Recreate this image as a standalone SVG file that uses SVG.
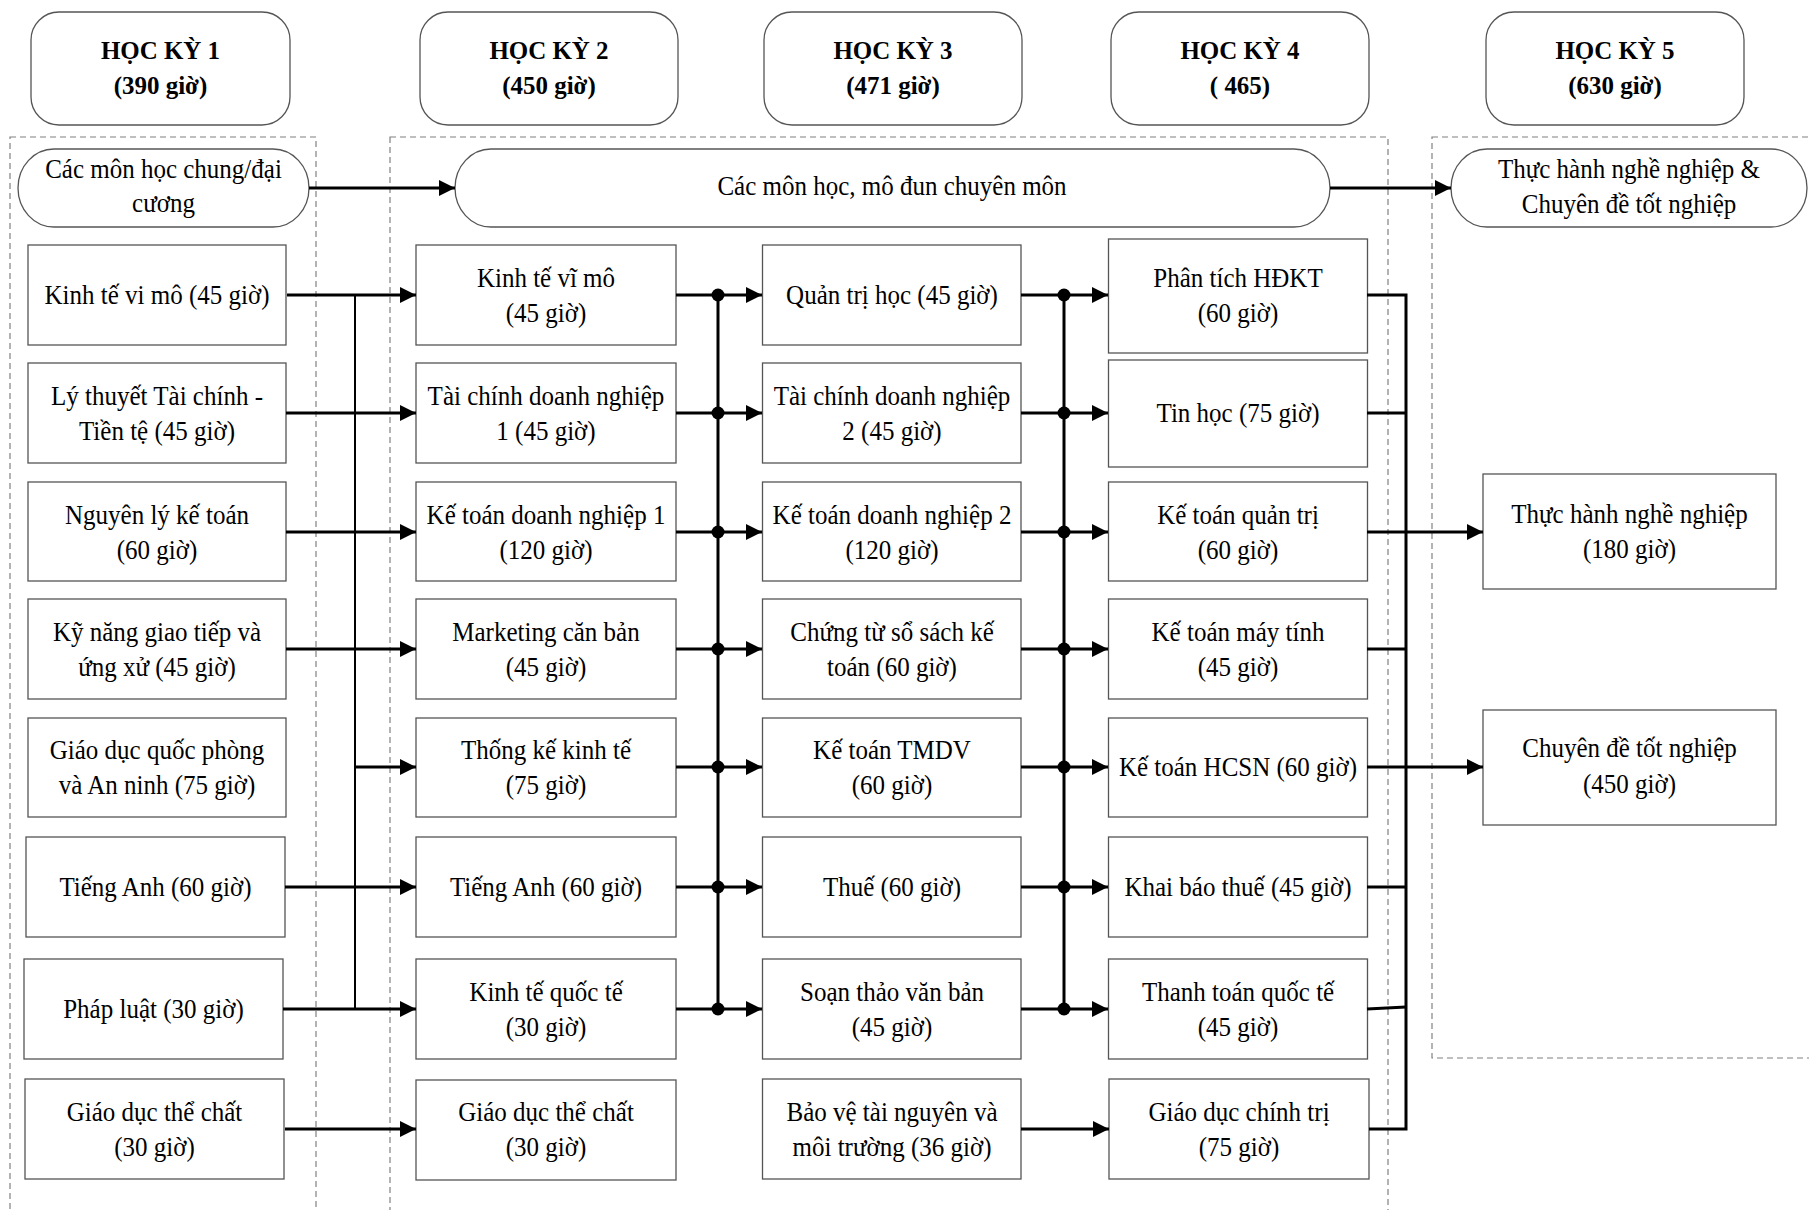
<svg xmlns="http://www.w3.org/2000/svg" width="1809" height="1210" viewBox="0 0 1809 1210">
<defs>
<style>
text{font-family:"Liberation Serif","Times New Roman",serif;font-size:27px;fill:#000;text-anchor:middle;transform-box:fill-box;transform-origin:center;transform:scaleX(0.926)}
.h{font-weight:bold;font-size:26px;transform:scaleX(0.96)}
.box{fill:#fff;stroke:#555;stroke-width:1.3}
.dash{fill:none;stroke:#808080;stroke-width:1.2;stroke-dasharray:6 4}
.c{fill:none;stroke:#000;stroke-width:3}
.bus1{fill:none;stroke:#000;stroke-width:2}
.a{marker-end:url(#arr)}
</style>
<marker id="arr" markerUnits="userSpaceOnUse" markerWidth="16" markerHeight="16" refX="16" refY="8" orient="auto">
<path d="M0,0 L16,8 L0,16 z" fill="#000"/>
</marker>
</defs>
<rect width="1809" height="1210" fill="#fff"/>
<g id="groups">
<rect class="dash" x="10" y="137" width="306" height="1100"/>
<rect class="dash" x="390" y="137" width="998" height="1100"/>
<rect class="dash" x="1432" y="137" width="420" height="921"/>
</g>
<g id="headers">
<g id="hk1"><rect class="box" x="31" y="12" width="259" height="113" rx="28"/><text class="h" x="160.5" y="59">HỌC KỲ 1</text><text class="h" x="160.5" y="94">(390 giờ)</text></g>
<g id="hk2"><rect class="box" x="420" y="12" width="258" height="113" rx="28"/><text class="h" x="549" y="59">HỌC KỲ 2</text><text class="h" x="549" y="94">(450 giờ)</text></g>
<g id="hk3"><rect class="box" x="764" y="12" width="258" height="113" rx="28"/><text class="h" x="893" y="59">HỌC KỲ 3</text><text class="h" x="893" y="94">(471 giờ)</text></g>
<g id="hk4"><rect class="box" x="1111" y="12" width="258" height="113" rx="28"/><text class="h" x="1240" y="59">HỌC KỲ 4</text><text class="h" x="1240" y="94">( 465)</text></g>
<g id="hk5"><rect class="box" x="1486" y="12" width="258" height="113" rx="28"/><text class="h" x="1615" y="59">HỌC KỲ 5</text><text class="h" x="1615" y="94">(630 giờ)</text></g>
</g>
<g id="categories">
<g id="cat1"><rect class="box" x="18" y="149" width="291" height="78" rx="36" ry="39"/><text x="163.5" y="178">Các môn học chung/đại</text><text x="163.5" y="212">cương</text></g>
<g id="cat2"><rect class="box" x="455" y="149" width="875" height="78" rx="36" ry="39"/><text x="892" y="195">Các môn học, mô đun chuyên môn</text></g>
<g id="cat3"><rect class="box" x="1451" y="149" width="356" height="78" rx="36" ry="39"/><text x="1629" y="178">Thực hành nghề nghiệp &amp;</text><text x="1629" y="213">Chuyên đề tốt nghiệp</text></g>
</g>
<g id="col1">
<g id="c1r1"><rect class="box" x="28" y="245" width="258" height="100"/><text x="157" y="304">Kinh tế vi mô (45 giờ)</text></g>
<g id="c1r2"><rect class="box" x="28" y="363" width="258" height="100"/><text x="157" y="405">Lý thuyết Tài chính -</text><text x="157" y="440">Tiền tệ (45 giờ)</text></g>
<g id="c1r3"><rect class="box" x="28" y="482" width="258" height="99"/><text x="157" y="524">Nguyên lý kế toán</text><text x="157" y="559">(60 giờ)</text></g>
<g id="c1r4"><rect class="box" x="28" y="599" width="258" height="100"/><text x="157" y="641">Kỹ năng giao tiếp và</text><text x="157" y="676">ứng xử (45 giờ)</text></g>
<g id="c1r5"><rect class="box" x="28" y="718" width="258" height="99"/><text x="157" y="759">Giáo dục quốc phòng</text><text x="157" y="794">và An ninh (75 giờ)</text></g>
<g id="c1r6"><rect class="box" x="26" y="837" width="259" height="100"/><text x="155.5" y="896">Tiếng Anh (60 giờ)</text></g>
<g id="c1r7"><rect class="box" x="24" y="959" width="259" height="100"/><text x="153.5" y="1018">Pháp luật (30 giờ)</text></g>
<g id="c1r8"><rect class="box" x="25" y="1079" width="259" height="100"/><text x="154.5" y="1121">Giáo dục thể chất</text><text x="154.5" y="1156">(30 giờ)</text></g>
</g>
<g id="col2">
<g id="c2r1"><rect class="box" x="416" y="245" width="260" height="100"/><text x="546" y="287">Kinh tế vĩ mô</text><text x="546" y="322">(45 giờ)</text></g>
<g id="c2r2"><rect class="box" x="416" y="363" width="260" height="100"/><text x="546" y="405">Tài chính doanh nghiệp</text><text x="546" y="440">1 (45 giờ)</text></g>
<g id="c2r3"><rect class="box" x="416" y="482" width="260" height="99"/><text x="546" y="524">Kế toán doanh nghiệp 1</text><text x="546" y="559">(120 giờ)</text></g>
<g id="c2r4"><rect class="box" x="416" y="599" width="260" height="100"/><text x="546" y="641">Marketing căn bản</text><text x="546" y="676">(45 giờ)</text></g>
<g id="c2r5"><rect class="box" x="416" y="718" width="260" height="99"/><text x="546" y="759">Thống kế kinh tế</text><text x="546" y="794">(75 giờ)</text></g>
<g id="c2r6"><rect class="box" x="416" y="837" width="260" height="100"/><text x="546" y="896">Tiếng Anh (60 giờ)</text></g>
<g id="c2r7"><rect class="box" x="416" y="959" width="260" height="100"/><text x="546" y="1001">Kinh tế quốc tế</text><text x="546" y="1036">(30 giờ)</text></g>
<g id="c2r8"><rect class="box" x="416" y="1080" width="260" height="100"/><text x="546" y="1121">Giáo dục thể chất</text><text x="546" y="1156">(30 giờ)</text></g>
</g>
<g id="col3">
<g id="c3r1"><rect class="box" x="762.5" y="245" width="258.5" height="100"/><text x="892" y="304">Quản trị học (45 giờ)</text></g>
<g id="c3r2"><rect class="box" x="762.5" y="363" width="258.5" height="100"/><text x="892" y="405">Tài chính doanh nghiệp</text><text x="892" y="440">2 (45 giờ)</text></g>
<g id="c3r3"><rect class="box" x="762.5" y="482" width="258.5" height="99"/><text x="892" y="524">Kế toán doanh nghiệp 2</text><text x="892" y="559">(120 giờ)</text></g>
<g id="c3r4"><rect class="box" x="762.5" y="599" width="258.5" height="100"/><text x="892" y="641">Chứng từ sổ sách kế</text><text x="892" y="676">toán (60 giờ)</text></g>
<g id="c3r5"><rect class="box" x="762.5" y="718" width="258.5" height="99"/><text x="892" y="759">Kế toán TMDV</text><text x="892" y="794">(60 giờ)</text></g>
<g id="c3r6"><rect class="box" x="762.5" y="837" width="258.5" height="100"/><text x="892" y="896">Thuế (60 giờ)</text></g>
<g id="c3r7"><rect class="box" x="762.5" y="959" width="258.5" height="100"/><text x="892" y="1001">Soạn thảo văn bản</text><text x="892" y="1036">(45 giờ)</text></g>
<g id="c3r8"><rect class="box" x="762.5" y="1079" width="258.5" height="100"/><text x="892" y="1121">Bảo vệ tài nguyên và</text><text x="892" y="1156">môi trường (36 giờ)</text></g>
</g>
<g id="col4">
<g id="c4r1"><rect class="box" x="1108.5" y="239" width="259" height="114"/><text x="1238" y="287">Phân tích HĐKT</text><text x="1238" y="322">(60 giờ)</text></g>
<g id="c4r2"><rect class="box" x="1108.5" y="360" width="259" height="107"/><text x="1238" y="422">Tin học (75 giờ)</text></g>
<g id="c4r3"><rect class="box" x="1108.5" y="482" width="259" height="99"/><text x="1238" y="524">Kế toán quản trị</text><text x="1238" y="559">(60 giờ)</text></g>
<g id="c4r4"><rect class="box" x="1108.5" y="599" width="259" height="100"/><text x="1238" y="641">Kế toán máy tính</text><text x="1238" y="676">(45 giờ)</text></g>
<g id="c4r5"><rect class="box" x="1108.5" y="718" width="259" height="99"/><text x="1238" y="776">Kế toán HCSN (60 giờ)</text></g>
<g id="c4r6"><rect class="box" x="1108.5" y="837" width="259" height="100"/><text x="1238" y="896">Khai báo thuế (45 giờ)</text></g>
<g id="c4r7"><rect class="box" x="1108.5" y="959" width="259" height="100"/><text x="1238" y="1001">Thanh toán quốc tế</text><text x="1238" y="1036">(45 giờ)</text></g>
<g id="c4r8"><rect class="box" x="1109" y="1079" width="260" height="100"/><text x="1239" y="1121">Giáo dục chính trị</text><text x="1239" y="1156">(75 giờ)</text></g>
</g>
<g id="col5">
<g id="c5r1"><rect class="box" x="1483" y="474" width="293" height="115"/><text x="1629.5" y="523">Thực hành nghề nghiệp</text><text x="1629.5" y="558">(180 giờ)</text></g>
<g id="c5r2"><rect class="box" x="1483" y="710" width="293" height="115"/><text x="1629.5" y="757">Chuyên đề tốt nghiệp</text><text x="1629.5" y="793">(450 giờ)</text></g>
</g>
<g id="connectors">
<path class="c a" d="M309,188 H455"/>
<path class="c a" d="M1330,188 H1451"/>
<path class="bus1" d="M355,295 V1009"/>
<path class="c a" d="M287,295 H416"/>
<path class="c a" d="M286,413 H416"/>
<path class="c a" d="M286,532 H416"/>
<path class="c a" d="M286,649 H416"/>
<path class="c a" d="M355,767 H416"/>
<path class="c a" d="M285,887 H416"/>
<path class="c a" d="M283,1009 H416"/>
<path class="c a" d="M285,1129 H416"/>
<path class="c" d="M718,295 V1009"/>
<path class="c a" d="M676,295 H762"/>
<path class="c a" d="M676,413 H762"/>
<path class="c a" d="M676,532 H762"/>
<path class="c a" d="M676,649 H762"/>
<path class="c a" d="M676,767 H762"/>
<path class="c a" d="M676,887 H762"/>
<path class="c a" d="M676,1009 H762"/>
<g fill="#000">
<circle cx="718" cy="295" r="6.5"/><circle cx="718" cy="413" r="6.5"/><circle cx="718" cy="532" r="6.5"/><circle cx="718" cy="649" r="6.5"/><circle cx="718" cy="767" r="6.5"/><circle cx="718" cy="887" r="6.5"/><circle cx="718" cy="1009" r="6.5"/>
<circle cx="1064" cy="295" r="6.5"/><circle cx="1064" cy="413" r="6.5"/><circle cx="1064" cy="532" r="6.5"/><circle cx="1064" cy="649" r="6.5"/><circle cx="1064" cy="767" r="6.5"/><circle cx="1064" cy="887" r="6.5"/><circle cx="1064" cy="1009" r="6.5"/>
</g>
<path class="c" d="M1064,295 V1009"/>
<path class="c a" d="M1021,295 H1108"/>
<path class="c a" d="M1021,413 H1108"/>
<path class="c a" d="M1021,532 H1108"/>
<path class="c a" d="M1021,649 H1108"/>
<path class="c a" d="M1021,767 H1108"/>
<path class="c a" d="M1021,887 H1108"/>
<path class="c a" d="M1021,1009 H1108"/>
<path class="c a" d="M1021,1129 H1109"/>
<path class="c" d="M1367,295 H1406 V1129 H1369"/>
<path class="c" d="M1367,413 H1406"/>
<path class="c a" d="M1367,532 H1483"/>
<path class="c" d="M1367,649 H1406"/>
<path class="c a" d="M1367,767 H1483"/>
<path class="c" d="M1367,887 H1406"/>
<path class="c" d="M1367,1009 L1406,1007"/>
</g>
</svg>
